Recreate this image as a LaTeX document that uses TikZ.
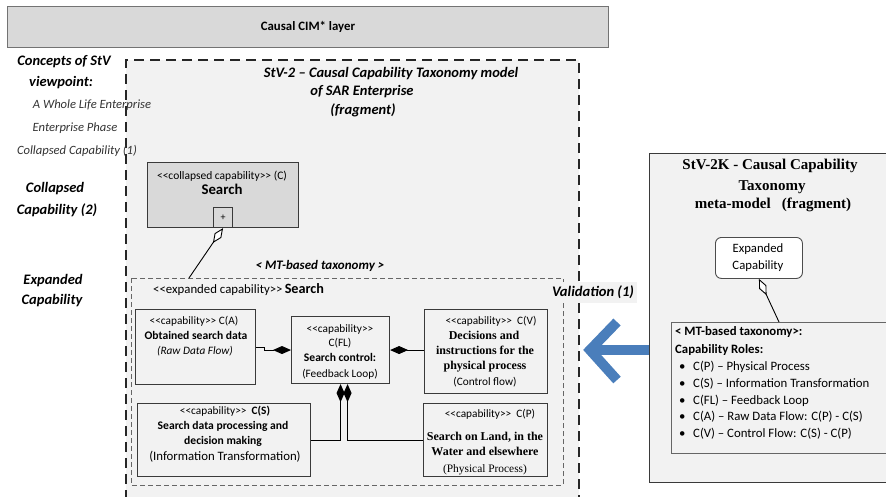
\documentclass[tikz,border=0pt]{standalone}
\usepackage{fontspec}
\setmainfont{Carlito}
\newfontfamily\tms{Liberation Serif}
\usetikzlibrary{arrows.meta,calc}
\definecolor{bgA}{HTML}{F2F2F2}
\definecolor{boxG}{HTML}{D9D9D9}
\definecolor{lineD}{HTML}{3A3A3A}
\definecolor{arrB}{RGB}{74,126,187}
\newcommand\LL{<\kern0pt<}
\newcommand\GG{>\kern0pt>}
\begin{document}
\begin{tikzpicture}[x=1pt,y=-1pt,
  lab/.style={anchor=mid,inner sep=0},
  sm/.style={lab,font=\fontsize{11.3}{13}\selectfont},
  smb/.style={lab,font=\bfseries\fontsize{11.6}{13}\selectfont},
  smi/.style={lab,font=\itshape\fontsize{11.3}{13}\selectfont},
  serb/.style={lab,font=\tms\bfseries\fontsize{12}{13}\selectfont},
  serr/.style={lab,font=\tms\fontsize{11.4}{13}\selectfont},
  headbi/.style={lab,font=\bfseries\itshape\fontsize{14.5}{16}\selectfont},
  titlebi/.style={lab,font=\bfseries\itshape\fontsize{14.5}{16}\selectfont},
  leftit/.style={lab,font=\itshape\fontsize{12.6}{14}\selectfont,text=black!80},
  mtline/.style={anchor=mid west,inner sep=0,font=\fontsize{12.8}{14}\selectfont},
  capbox/.style={draw=lineD,line width=1.1pt,fill=bgA,anchor=north west,inner sep=0},
  odash/.style={draw=black!85,line width=2.4pt,dash pattern=on 10pt off 6pt},
  idash/.style={draw=black!60,line width=0.9pt,dash pattern=on 5pt off 3pt},
  compo/.style={-{Diamond[length=18pt,width=8pt]},draw=black,line width=1pt},
  aggr/.style={{Diamond[length=18pt,width=8pt,fill=white]}-,draw=black,line width=0.9pt},
  bluearr/.style={draw=arrB,line width=10pt,line join=miter}
]
\clip (0,0) rectangle (886,497);
\useasboundingbox (0,0) rectangle (886,497);

% top layer box
\node[draw=black!55,line width=1pt,fill=boxG,minimum width=601pt,minimum height=41pt,
      anchor=north west,inner sep=0,font=\bfseries\fontsize{12.8}{14}\selectfont] (top) at (7,6) {Causal CIM* layer};

% outer StV-2 region
\fill[bgA] (126,60) rectangle (579,500);
\draw[odash] (126,500) -- (126,60) -- (579,60) -- (579,500);

% left concept labels
\node[headbi] (l1) at (64,63) {Concepts of StV};
\node[headbi] (l2) at (61,84) {viewpoint:};
\node[leftit] (l3) at (92,106) {A Whole Life Enterprise};
\node[leftit] (l4) at (75,129) {Enterprise Phase};
\node[leftit] (l5) at (77,152) {Collapsed Capability (1)};
\node[headbi] (l6) at (55,190) {Collapsed};
\node[headbi] (l7) at (57,212) {Capability (2)};
\node[headbi] (l8) at (53,282) {Expanded};
\node[headbi] (l9) at (52,302) {Capability};

% StV-2 title
\node[titlebi] (s1) at (391,75) {StV-2 – Causal Capability Taxonomy model};
\node[titlebi] (s2) at (362,93) {of SAR Enterprise};
\node[titlebi] (s3) at (363,112) {(fragment)};

% collapsed capability
\node[capbox,fill=boxG,minimum width=151pt,minimum height=65pt] (coll) at (147,162) {};
\node[lab,font=\fontsize{11.5}{13}\selectfont] (coll1) at (222,177) {\LL collapsed capability\GG\ (C)};
\node[lab,font=\bfseries\fontsize{14.8}{16}\selectfont] (coll2) at (222,192) {Search};
\node[draw=lineD,line width=0.8pt,fill=boxG,minimum width=19pt,minimum height=20pt,inner sep=0,
      anchor=south,font=\fontsize{10}{10}\selectfont] (plus) at (coll.south) {+};

% MT-based taxonomy label and expanded box
\node[lab,font=\bfseries\itshape\fontsize{13}{15}\selectfont] (mtl) at (320,267) {< MT-based taxonomy >};
\draw[idash] (131,278) rectangle (563,485);
\coordinate (expTop) at (189,278);
\node[anchor=mid west,inner sep=0,font=\fontsize{12.8}{14}\selectfont] (exl) at (153,291)
  {\LL expanded capability\GG\,{\bfseries\fontsize{14.2}{16}\selectfont Search}};
\node[lab,fill=bgA,inner xsep=3pt,inner ysep=4pt,font=\bfseries\itshape\fontsize{14.6}{16}\selectfont] (val) at (593,294) {Validation (1)};

% capability boxes
\node[capbox,minimum width=120pt,minimum height=75pt] (ca) at (135,309) {};
\node[sm] (ca1) at (194,322) {\LL capability\GG\ C(A)};
\node[smb] (ca2) at (196,337) {Obtained search data};
\node[smi] (ca3) at (195,352) {(Raw Data Flow)};

\node[capbox,minimum width=98pt,minimum height=67pt] (fl) at (291,316) {};
\node[sm] (fl1) at (340,330) {\LL capability\GG};
\node[sm] (fl2) at (340,344) {C(FL)};
\node[smb] (fl3) at (340,359) {Search control:};
\node[sm] (fl4) at (340,375) {(Feedback Loop)};

\node[capbox,minimum width=123pt,minimum height=84pt] (cv) at (424,309) {};
\node[sm] (cv1) at (491,322) {\LL capability\GG\ \ C(V)};
\node[serb] (cv2) at (484,337) {Decisions and};
\node[serb] (cv3) at (485,352) {instructions for the};
\node[serb] (cv4) at (485,367) {physical process};
\node[sm] (cv5) at (485,383) {(Control flow)};

\node[capbox,minimum width=173pt,minimum height=73pt] (cs) at (137,403) {};
\node[sm] (cs1) at (225,412) {\LL capability\GG\ \ {\bfseries C(S)}};
\node[smb] (cs2) at (223,427) {Search data processing and};
\node[smb] (cs3) at (223,442) {decision making};
\node[lab,font=\fontsize{12.8}{14}\selectfont] (cs4) at (225,458) {(Information Transformation)};

\node[capbox,minimum width=124pt,minimum height=73pt] (cp) at (423,403) {};
\node[sm] (cp1) at (490,415) {\LL capability\GG\ \ C(P)};
\node[serb] (cp2) at (485,438) {Search on Land, in the};
\node[serb] (cp3) at (485,453) {Water and elsewhere};
\node[serr] (cp4) at (485,470) {(Physical Process)};

% connectors
\draw[aggr] (plus.south) -- (expTop);
\draw[compo] (ca.east) -- ++(8,0) |- (fl.west);
\draw[compo] (cv.west |- fl.west) -- (fl.east);
\draw[compo] (cs.east) -| (fl.south);
\draw[compo] (cp.west) -| ([xshift=7pt]fl.south);

% right meta-model
\node[draw=lineD,line width=1.1pt,fill=bgA,anchor=north west,inner sep=0,minimum width=250pt,minimum height=329pt] (stv2k) at (649,153) {};
\node[lab,font=\tms\bfseries\fontsize{15}{17}\selectfont] (k1) at (770,167) {StV-2K - Causal Capability};
\node[lab,font=\tms\bfseries\fontsize{15}{17}\selectfont] (k2) at (772,188) {Taxonomy};
\node[lab,font=\tms\bfseries\fontsize{15}{17}\selectfont] (k3) at (773,206) {meta-model \ \ (fragment)};

\node[draw=black!70,line width=0.9pt,fill=white,rounded corners=6pt,minimum width=87pt,minimum height=41pt,
      anchor=north west,inner sep=0] (ec) at (715,237) {};
\node[lab,font=\fontsize{12.7}{14}\selectfont] (ec1) at (758,250) {Expanded};
\node[lab,font=\fontsize{12.7}{14}\selectfont] (ec2) at (758,267) {Capability};

\node[draw=black!60,line width=1pt,fill=bgA,anchor=north west,inner sep=0,minimum width=240pt,minimum height=131pt] (mt) at (671,322) {};
\coordinate (mtTop) at (779,322);
\draw[aggr] (ec.south) -- (mtTop);
\node[mtline,font=\bfseries\fontsize{12.8}{14}\selectfont] (m1) at (675,333) {< MT-based taxonomy>:};
\node[mtline,font=\bfseries\fontsize{12.8}{14}\selectfont] (m2) at (675,351) {Capability Roles:};
\foreach \yy/\tt [count=\i] in {368/{C(P) – Physical Process},385/{C(S) – Information Transformation},402/{C(FL) – Feedback Loop},418/{C(A) – Raw Data Flow: C(P) - C(S)},435/{C(V) – Control Flow: C(S) - C(P)}}{
  \node[mtline] (b\i) at (679,\yy) {•};
  \node[mtline] (m\i x) at (693,\yy) {\tt};
}

% blue validation arrow
\coordinate (tip) at (590,350);
\draw[bluearr] (stv2k.west |- tip) -- (tip);
\draw[bluearr] ($(tip)+(27,-28)$) -- (tip) -- ($(tip)+(27,30)$);
\end{tikzpicture}
\end{document}
